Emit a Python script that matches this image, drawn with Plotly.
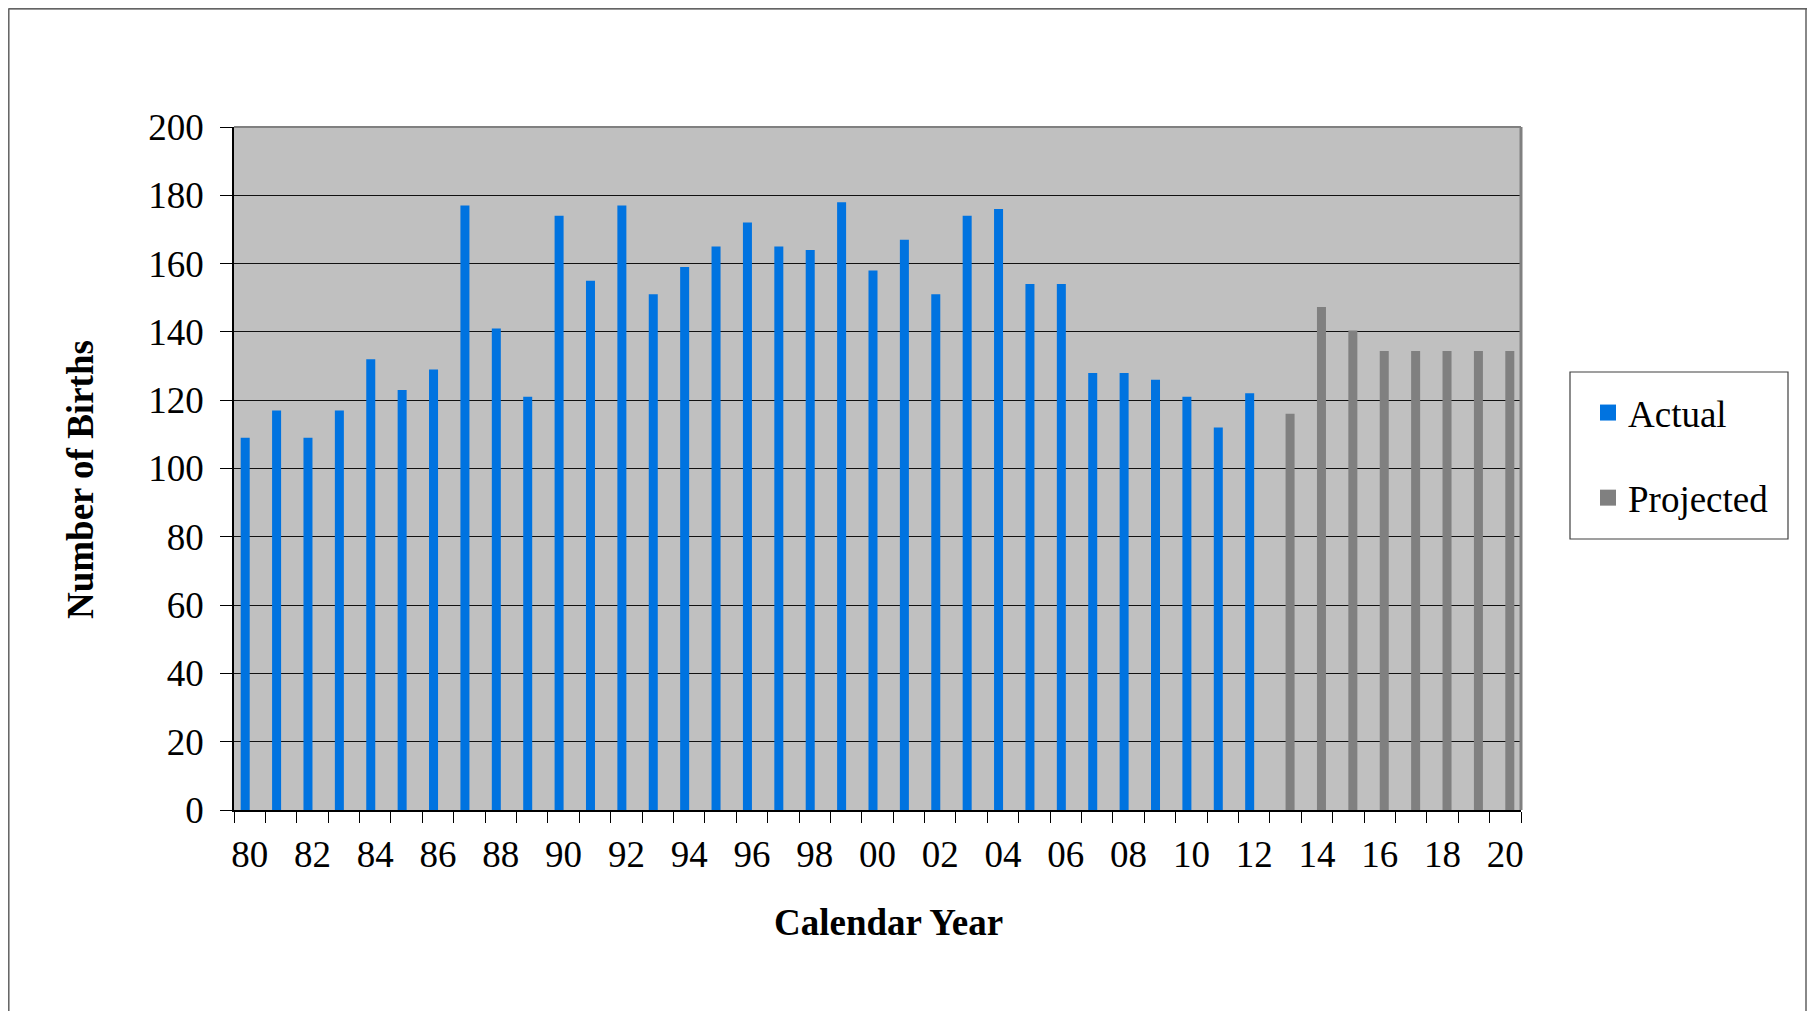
import plotly.graph_objects as go

# calendar years and births
actual_years = list(range(1980, 2013))
actual_births = [109, 117, 109, 117, 132, 123, 129, 177, 141, 121,
                 174, 155, 177, 151, 159, 165, 172, 165, 164, 178,
                 158, 167, 151, 174, 176, 154, 154, 128, 128, 126,
                 121, 112, 122]

projected_years = list(range(2013, 2021))
projected_births = [116, 147.3, 140.4, 134.4, 134.4, 134.4, 134.4, 134.4]

tick_years = list(range(1980, 2021, 2))
tick_labels = ["80", "82", "84", "86", "88", "90", "92", "94", "96", "98", "00",
               "02", "04", "06", "08", "10", "12", "14", "16", "18", "20"]

BLUE = "#0073E0"
GREY = "#808080"
FONT = "Liberation Serif"
FS = 37

# page body has an 8px margin, so the figure starts at (8, 8)
# keep it small enough that no scrollbar shows up
OFF = 8
FIG_W, FIG_H = 1815 - 2 * OFF, 1019 - 2 * OFF

# plot area in page pixels
L, R, T, B = 234, 1521, 127, 810
W, H = R - L, B - T


def px_x(x):
    return (x - L) / W


def px_y(y):
    return (B - y) / H


BAR_W = 0.287

fig = go.Figure()
fig.add_trace(go.Bar(x=actual_years, y=actual_births, name="Actual",
                     width=BAR_W, offset=-BAR_W,
                     marker=dict(color=BLUE, line=dict(width=0)),
                     showlegend=False))
fig.add_trace(go.Bar(x=projected_years, y=projected_births, name="Projected",
                     width=BAR_W, offset=0,
                     marker=dict(color=GREY, line=dict(width=0)),
                     showlegend=False))

# legend proxies, bigger squares than the bar legend symbol
fig.add_trace(go.Scatter(x=[None], y=[None], mode="markers", name="Actual",
                         legendgroup="a",
                         marker=dict(symbol="square", size=19, color=BLUE)))
fig.add_trace(go.Scatter(x=[None], y=[None], mode="markers", name="Projected",
                         legendgroup="p",
                         marker=dict(symbol="square", size=19, color=GREY)))

fig.update_layout(
    width=FIG_W, height=FIG_H, autosize=False,
    margin=dict(l=L - OFF, r=FIG_W - (R - OFF), t=T - OFF, b=FIG_H - (B - OFF)),
    paper_bgcolor="white",
    plot_bgcolor="#C0C0C0",
    barmode="overlay",
    font=dict(family=FONT, size=FS, color="black"),
    legend=dict(x=px_x(1588), y=px_y(382), xanchor="left", yanchor="top",
                bgcolor="rgba(0,0,0,0)", borderwidth=0,
                traceorder="grouped", tracegroupgap=34,
                itemsizing="trace",
                font=dict(family=FONT, size=FS, color="black")),
)

fig.update_xaxes(
    range=[1979.5, 2020.5],
    tickvals=tick_years, ticktext=tick_labels,
    ticks="outside", ticklen=11, tickcolor="rgba(0,0,0,0)",
    minor=dict(tick0=1979.5, dtick=1, ticks="outside", ticklen=11,
               tickcolor="black", tickwidth=1),
    showline=True, linecolor="black", linewidth=1.5,
    showgrid=False, zeroline=False,
    tickfont=dict(family=FONT, size=FS, color="black"),
)
fig.update_yaxes(
    range=[0, 200], dtick=20,
    ticks="outside", ticklen=12, tickcolor="black", tickwidth=1,
    ticklabelstandoff=9,
    showline=True, linecolor="black", linewidth=1.5,
    showgrid=True, gridcolor="#111111", gridwidth=1,
    zeroline=False,
    tickfont=dict(family=FONT, size=FS, color="black"),
)

# grey border top / right of plot area
fig.add_shape(type="line", xref="paper", yref="paper", x0=0, x1=1, y0=1, y1=1,
              line=dict(color=GREY, width=2))
fig.add_shape(type="line", xref="paper", yref="paper", x0=1, x1=1, y0=0, y1=1,
              line=dict(color=GREY, width=3))

# legend box
fig.add_shape(type="rect", xref="paper", yref="paper",
              x0=px_x(1570), x1=px_x(1788), y0=px_y(539), y1=px_y(372),
              line=dict(color="#404040", width=1.2), fillcolor="rgba(0,0,0,0)")

# outer chart frame
fig.add_shape(type="line", xref="paper", yref="paper",
              x0=px_x(8.5), x1=px_x(1809), y0=px_y(8.8), y1=px_y(8.8),
              line=dict(color="#303030", width=1.2))
fig.add_shape(type="line", xref="paper", yref="paper",
              x0=px_x(8.8), x1=px_x(8.8), y0=px_y(8.5), y1=px_y(1030),
              line=dict(color="#606060", width=1.5))
fig.add_shape(type="line", xref="paper", yref="paper",
              x0=px_x(1806), x1=px_x(1806), y0=px_y(8.5), y1=px_y(1030),
              line=dict(color="#606060", width=1.5))

# axis titles
fig.add_annotation(text="<b>Number of Births</b>", xref="paper", yref="paper",
                   x=px_x(81), y=px_y(480), textangle=-90, showarrow=False,
                   xanchor="center", yanchor="middle",
                   font=dict(family=FONT, size=FS, color="black"))
fig.add_annotation(text="<b>Calendar Year</b>", xref="paper", yref="paper",
                   x=px_x(888), y=px_y(922), showarrow=False,
                   xanchor="center", yanchor="middle",
                   font=dict(family=FONT, size=FS, color="black"))

fig.write_html("out.html")
